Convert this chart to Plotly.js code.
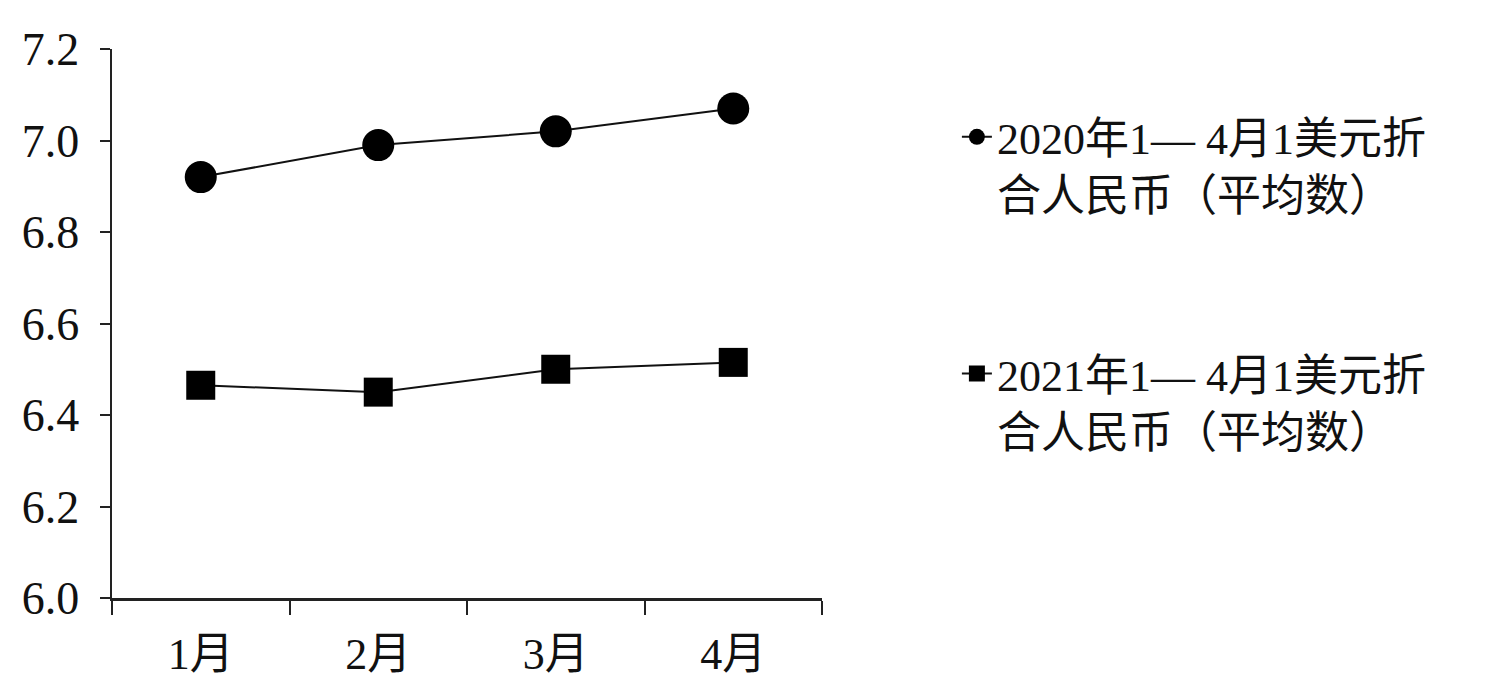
<!DOCTYPE html>
<html>
<head>
<meta charset="utf-8">
<script src="https://cdn.plot.ly/plotly-3.0.1.min.js"></script>
<style>html,body{margin:0;padding:0;background:#fff;}#chart{width:1506px;height:692px;}</style>
</head>
<body>
<div id="chart"></div>
<script>
const months = ["1月", "2月", "3月", "4月"];
const rate2020 = [6.92, 6.99, 7.02, 7.07];
const rate2021 = [6.465, 6.45, 6.50, 6.515];
const name2020 = "2020年1— 4月1美元折<br>合人民币（平均数）";
const name2021 = "2021年1— 4月1美元折<br>合人民币（平均数）";
const yTicks = [6.0, 6.2, 6.4, 6.6, 6.8, 7.0, 7.2];

const FONT = "'Liberation Serif', 'Noto Sans CJK SC', serif";
const INK = "#111";

const traces = [
  {
    x: months, y: rate2020, name: name2020, type: "scatter", mode: "lines+markers",
    line: {color: INK, width: 2},
    marker: {symbol: "circle", size: 32, color: "#000"},
    legend: "legend"
  },
  {
    x: months, y: rate2021, name: name2021, type: "scatter", mode: "lines+markers",
    line: {color: INK, width: 2},
    marker: {symbol: "square", size: 29, color: "#000"},
    legend: "legend2"
  }
];

const layout = {
  width: 1506, height: 692,
  margin: {l: 112, r: 684, t: 49, b: 94, autoexpand: false},
  paper_bgcolor: "#fff", plot_bgcolor: "#fff",
  font: {family: FONT, color: INK},
  showlegend: true,
  xaxis: {
    type: "category", range: [-0.5, 3.5], tickson: "boundaries",
    showline: true, linecolor: "#222", linewidth: 2.5,
    ticks: "outside", ticklen: 14, tickwidth: 2, tickcolor: "#222",
    showgrid: false, zeroline: false,
    tickfont: {size: 44, family: FONT, color: INK},
    ticklabelstandoff: 16
  },
  yaxis: {
    range: [6.0, 7.2], tickvals: yTicks, tickformat: ".1f",
    showline: true, linecolor: "#222", linewidth: 2.5,
    ticks: "outside", ticklen: 10, tickwidth: 2, tickcolor: "#222",
    showgrid: false, zeroline: false,
    tickfont: {size: 46, family: FONT, color: INK},
    ticklabelstandoff: 11
  },
  legend: {
    x: 1.19, xanchor: "left", y: 0.904, yanchor: "top",
    valign: "top", bgcolor: "rgba(0,0,0,0)",
    font: {size: 44, family: FONT, color: INK}
  },
  legend2: {
    x: 1.19, xanchor: "left", y: 0.473, yanchor: "top",
    valign: "top", bgcolor: "rgba(0,0,0,0)",
    font: {size: 44, family: FONT, color: INK}
  }
};

Plotly.newPlot("chart", traces, layout, {displayModeBar: false, staticPlot: true});
</script>
</body>
</html>
